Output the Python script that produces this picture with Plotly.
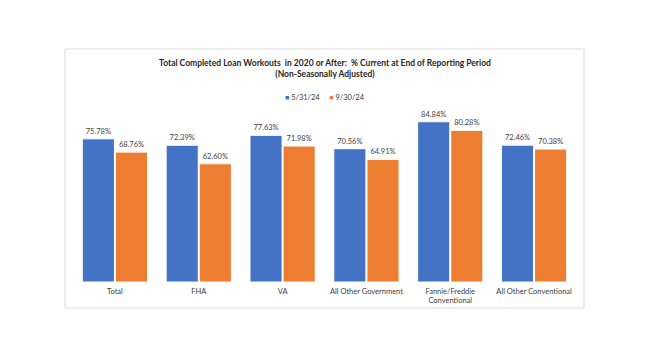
import plotly.graph_objects as go

categories = ["Total", "FHA", "VA", "All Other Government", "Fannie/Freddie<br>Conventional", "All Other Conventional"]
series_names = ["5/31/24", "9/30/24"]
values_may = [75.78, 72.39, 77.63, 70.56, 84.84, 72.46]
values_sep = [68.76, 62.60, 71.98, 64.91, 80.28, 70.38]
colors = ["#4472C4", "#ED7D31"]

FONT = "Lato"

fig = go.Figure()
for name, vals, col in zip(series_names, [values_may, values_sep], colors):
    fig.add_trace(go.Bar(
        x=categories, y=vals, name=name, showlegend=False,
        marker=dict(color=col, line=dict(color="#FFFFFF", width=1)),
        text=[f"{v:.2f}%" for v in vals], textposition="outside",
        textfont=dict(size=7.5, color="#404040", family=FONT),
        cliponaxis=False,
    ))

legend_text = "&nbsp;&nbsp;&nbsp;&nbsp;&nbsp;".join(
    f"<span style='color:{c}; font-size:7px'>■</span> {n}" for n, c in zip(series_names, colors))

fig.update_layout(
    width=650, height=350,
    paper_bgcolor="white", plot_bgcolor="white",
    margin=dict(l=73, r=74, t=112, b=68),
    barmode="group", bargap=0.21, bargroupgap=0.03,
    font=dict(family=FONT, size=7.5, color="#404040"),
    title=dict(
        text="<b>Total Completed Loan Workouts  in 2020 or After:  % Current at End of Reporting Period<br>(Non-Seasonally Adjusted)</b>",
        x=0.5, xanchor="center", y=0.812, yanchor="middle",
        font=dict(size=8.5, color="#262626", family=FONT),
    ),
    annotations=[dict(text=legend_text, xref="paper", yref="paper", x=0.5, y=1.0 + 15/170,
                      xanchor="center", yanchor="middle", showarrow=False,
                      font=dict(size=7.5, color="#404040", family=FONT))],
    xaxis=dict(showline=False, ticks="", ticklabelstandoff=3,
               tickfont=dict(size=7.5, color="#404040", family=FONT)),
    yaxis=dict(range=[0, 90], visible=False, showgrid=False),
    shapes=[dict(type="rect", xref="paper", yref="paper",
                 x0=-8/503, x1=1+8/503, y0=-26/170, y1=1+63/170,
                 line=dict(color="#D9D9D9", width=1), fillcolor="rgba(0,0,0,0)", layer="below")],
)

fig.write_html("out.html")
